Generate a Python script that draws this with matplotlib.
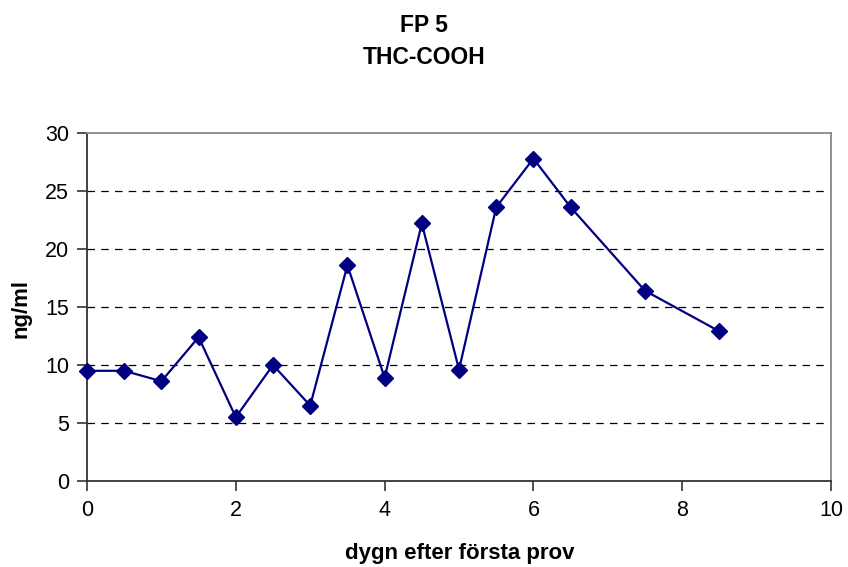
import matplotlib
matplotlib.use("Agg")
import matplotlib.pyplot as plt

# Mätvärden THC-COOH, FP 5
dygn = [0, 0.5, 1, 1.5, 2, 2.5, 3, 3.5, 4, 4.5, 5, 5.5, 6, 6.5, 7.5, 8.5]
konc = [9.5, 9.5, 8.6, 12.4, 5.5, 10.0, 6.5, 18.6, 8.9, 22.2, 9.6, 23.6, 27.8, 23.6, 16.4, 12.9]

plt.rcParams['font.family'] = ['Liberation Sans', 'DejaVu Sans']

fig = plt.figure(figsize=(8.48, 5.67), dpi=100)
ax = fig.add_axes([0.1026, 0.1517, 0.8774, 0.6137])

ax.plot(dygn, konc, color='#000080', linewidth=1.6, marker='D', markersize=8.5,
        markerfacecolor='#000080', markeredgecolor='#000080', clip_on=False, zorder=3)

ax.set_xlim(0, 10)
ax.set_ylim(0, 30)
ax.set_xticks(range(0, 11, 2))
ax.set_yticks(range(0, 31, 5))
ax.tick_params(axis='both', labelsize=15.5, direction='out', length=7, width=1.2,
               color='#333333', labelcolor='black')
ax.tick_params(axis='x', pad=7)
ax.tick_params(axis='y', pad=6)

for y in range(5, 30, 5):
    ax.axhline(y, color='black', linestyle=(0, (6, 5)), linewidth=0.9, zorder=1)

ax.spines['left'].set_color('#333333')
ax.spines['bottom'].set_color('#333333')
ax.spines['top'].set_color('#888888')
ax.spines['right'].set_color('#888888')
for s in ax.spines.values():
    s.set_linewidth(1.3)

fig.text(0.542, 1 - 553 / 567, 'dygn efter första prov', ha='center', va='center',
         fontsize=16, fontweight='bold')
fig.text(21 / 848, 1 - 308 / 567, 'ng/ml', ha='center', va='center', rotation=90,
         fontsize=16, fontweight='bold')
fig.text(0.5, 1 - 25 / 567, 'FP 5', ha='center', va='center', fontsize=16.5, fontweight='bold')
fig.text(0.5, 1 - 58 / 567, 'THC-COOH', ha='center', va='center', fontsize=16.5, fontweight='bold')

fig.savefig('out.png', dpi=100)
